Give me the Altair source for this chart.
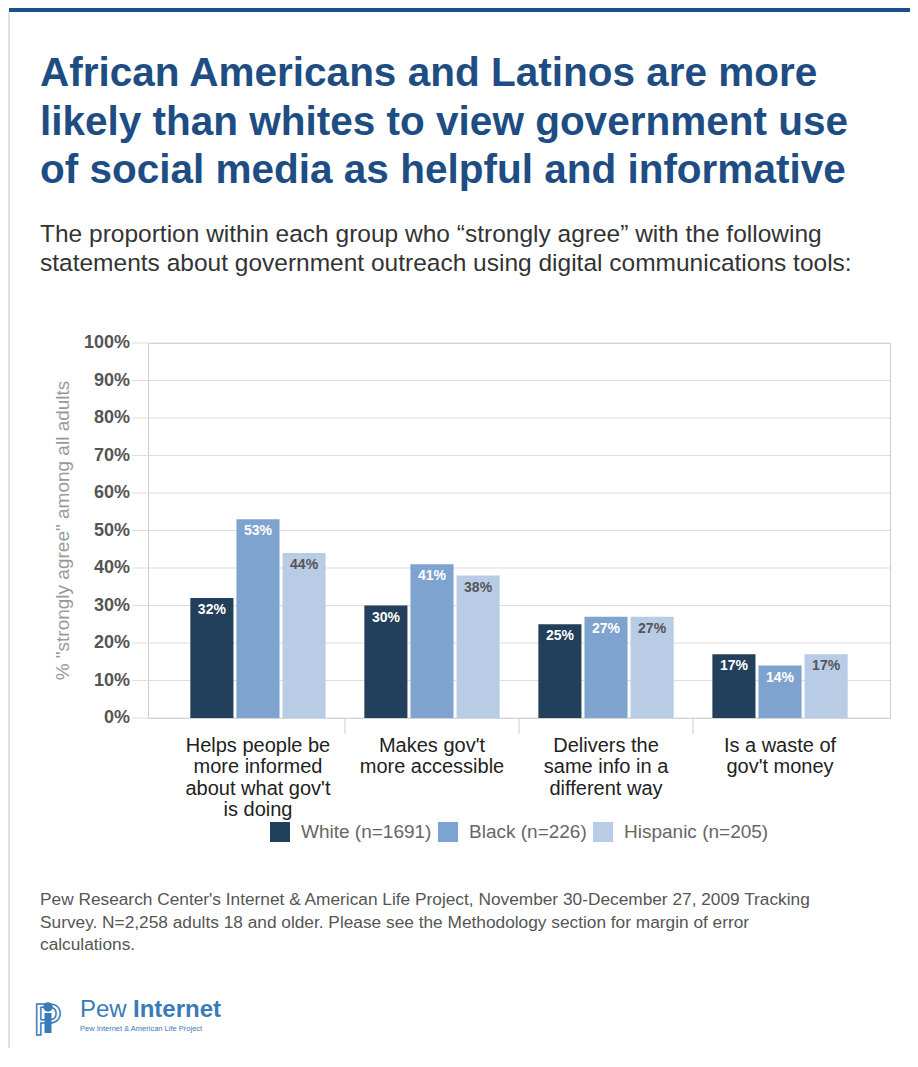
import altair as alt
import pandas as pd

# ---- data ----
categories = [
    "Helps people be|more informed|about what gov't|is doing",
    "Makes gov't|more accessible",
    "Delivers the|same info in a|different way",
    "Is a waste of|gov't money",
]
groups = ["White (n=1691)", "Black (n=226)", "Hispanic (n=205)"]
white = [32, 30, 25, 17]
black = [53, 41, 27, 14]
hispanic = [44, 38, 27, 17]
y_ticks = [0, 10, 20, 30, 40, 50, 60, 70, 80, 90, 100]
colors = ["#223f5c", "#7fa3cf", "#b9cce6"]

title_lines = [
    "African Americans and Latinos are more",
    "likely than whites to view government use",
    "of social media as helpful and informative",
]
subtitle_lines = [
    "The proportion within each group who \u201cstrongly agree\u201d with the following",
    "statements about government outreach using digital communications tools:",
]
footer_lines = [
    "Pew Research Center's Internet & American Life Project, November 30-December 27, 2009 Tracking",
    "Survey. N=2,258 adults 18 and older. Please see the Methodology section for margin of error",
    "calculations.",
]
y_title = '% "strongly agree" among all adults'

rows = []
for g, vals in zip(groups, [white, black, hispanic]):
    for c, v in zip(categories, vals):
        rows.append({"cat": c, "group": g, "value": v})
df = pd.DataFrame(rows)
tick_df = pd.DataFrame({"v": y_ticks})

FONT = "Liberation Sans"
W, H = 742, 375
y_scale = alt.Scale(domain=[0, 100], nice=False, zero=True)

x_enc = alt.X(
    "cat:N",
    sort=categories,
    scale=alt.Scale(domain=categories, paddingInner=0, paddingOuter=0.132),
    axis=alt.Axis(
        title=None,
        labelAngle=0,
        labelExpr="split(datum.label, '|')",
        labelFontSize=20,
        labelColor="#222222",
        labelLineHeight=21.5,
        labelPadding=17,
        labelBaseline="top",
        ticks=False,
        grid=False,
        domainColor="#cccccc",
        labelFont=FONT,
    ),
)
xoff = alt.XOffset(
    "group:N",
    sort=groups,
    scale=alt.Scale(domain=groups, paddingInner=0.065, paddingOuter=0.42),
)
y_enc = alt.Y("value:Q", scale=y_scale, axis=None)

# gridlines (with the short tick stub left of the frame) and % labels
grid = alt.Chart(tick_df).mark_rule(color="#dddddd", strokeWidth=1).encode(
    y=alt.Y("v:Q", scale=y_scale, axis=None),
    x=alt.value(-16),
    x2=alt.value(W),
)
ylabels = alt.Chart(tick_df).mark_text(
    align="right", baseline="middle", fontSize=18, fontWeight="bold",
    font=FONT, color="#555555",
).encode(
    y=alt.Y("v:Q", scale=y_scale, axis=None),
    x=alt.value(-18),
    text=alt.Text("lab:N"),
).transform_calculate(lab="datum.v + '%'")

one = alt.Data(values=[{"k": 1}])

ytitle = alt.Chart(one).mark_text(
    align="center", baseline="middle", angle=270, fontSize=19, font=FONT,
    color="#999999",
).encode(x=alt.value(-85), y=alt.value(H / 2), text=alt.value(y_title))

bars = alt.Chart(df).mark_bar().encode(
    x=x_enc,
    xOffset=xoff,
    y=y_enc,
    color=alt.Color(
        "group:N",
        sort=groups,
        scale=alt.Scale(domain=groups, range=colors),
        legend=alt.Legend(
            title=None,
            orient="none",
            direction="horizontal",
            legendX=122,
            legendY=479,
            symbolType="square",
            symbolSize=400,
            symbolStrokeWidth=0,
            symbolOpacity=1,
            labelFontSize=19,
            labelColor="#666666",
            labelFont=FONT,
            labelOffset=11,
            columnPadding=6,
        ),
    ),
)

labels = alt.Chart(df).mark_text(
    baseline="middle", dy=12, fontSize=14, fontWeight="bold", font=FONT
).encode(
    x=x_enc,
    xOffset=xoff,
    y=y_enc,
    text=alt.Text("label:N"),
    color=alt.condition(
        alt.datum.group == groups[2], alt.value("#555555"), alt.value("#ffffff")
    ),
).transform_calculate(label="datum.value + '%'")

cat_ticks = alt.Chart(pd.DataFrame({"cat": categories[1:]})).mark_rule(
    color="#cccccc", strokeWidth=1
).encode(
    x=alt.X("cat:N", sort=categories, bandPosition=0),
    y=alt.value(H),
    y2=alt.value(H + 16),
)

top_bar = alt.Chart(one).mark_rule(color="#1c4f86", strokeWidth=5).encode(
    x=alt.value(-139), x2=alt.value(765), y=alt.value(-333.5)
)
left_line = alt.Chart(one).mark_rule(color="#d8d8d8", strokeWidth=1.5).encode(
    x=alt.value(-139), y=alt.value(-331), y2=alt.value(718)
)

title = alt.Chart(one).mark_text(
    align="left", baseline="alphabetic", fontSize=40.5, fontWeight="bold",
    font=FONT, color="#1e4d84", lineHeight=48.5,
).encode(x=alt.value(-108), y=alt.value(-257), text=alt.value(title_lines))

subtitle = alt.Chart(one).mark_text(
    align="left", baseline="alphabetic", fontSize=24.5, font=FONT,
    color="#333333", lineHeight=29,
).encode(x=alt.value(-108), y=alt.value(-101), text=alt.value(subtitle_lines))

footer = alt.Chart(one).mark_text(
    align="left", baseline="alphabetic", fontSize=17.3, font=FONT,
    color="#555555", lineHeight=22.5,
).encode(x=alt.value(-108), y=alt.value(562), text=alt.value(footer_lines))

logo_p = alt.Chart(one).mark_text(
    align="left", baseline="alphabetic", fontSize=44, font=FONT,
    fillOpacity=0, stroke="#3a7ab9", strokeWidth=1.5,
).encode(x=alt.value(-115), y=alt.value(692), text=alt.value("P"))
logo_head = alt.Chart(one).mark_point(
    filled=True, color="#3a7ab9", opacity=1, size=90, shape="circle"
).encode(x=alt.value(-100), y=alt.value(664))
logo_body = alt.Chart(one).mark_rule(color="#3a7ab9", strokeWidth=7).encode(
    x=alt.value(-100), y=alt.value(670), y2=alt.value(690)
)
logo_pew = alt.Chart(one).mark_text(
    align="left", baseline="alphabetic", fontSize=24, font=FONT, color="#3a7ab9"
).encode(x=alt.value(-68), y=alt.value(674), text=alt.value("Pew"))
logo_int = alt.Chart(one).mark_text(
    align="left", baseline="alphabetic", fontSize=24, font=FONT,
    fontWeight="bold", color="#3a7ab9",
).encode(x=alt.value(-15), y=alt.value(674), text=alt.value("Internet"))
logo_sub = alt.Chart(one).mark_text(
    align="left", baseline="alphabetic", fontSize=7.5, font=FONT, color="#3a7ab9"
).encode(
    x=alt.value(-68), y=alt.value(688),
    text=alt.value("Pew Internet & American Life Project"),
)

chart = alt.layer(
    grid, bars, labels, ylabels, ytitle, cat_ticks, top_bar, left_line, title,
    subtitle, footer, logo_p, logo_head, logo_body, logo_pew, logo_int, logo_sub,
).properties(
    width=W,
    height=H,
    autosize=alt.AutoSizeParams(type="none"),
    padding={"left": 140, "top": 335, "right": 20, "bottom": 330},
    background="white",
).configure_view(stroke="#cccccc", strokeWidth=1)

chart.save("out.html", embed_options={"renderer": "svg", "actions": False})
